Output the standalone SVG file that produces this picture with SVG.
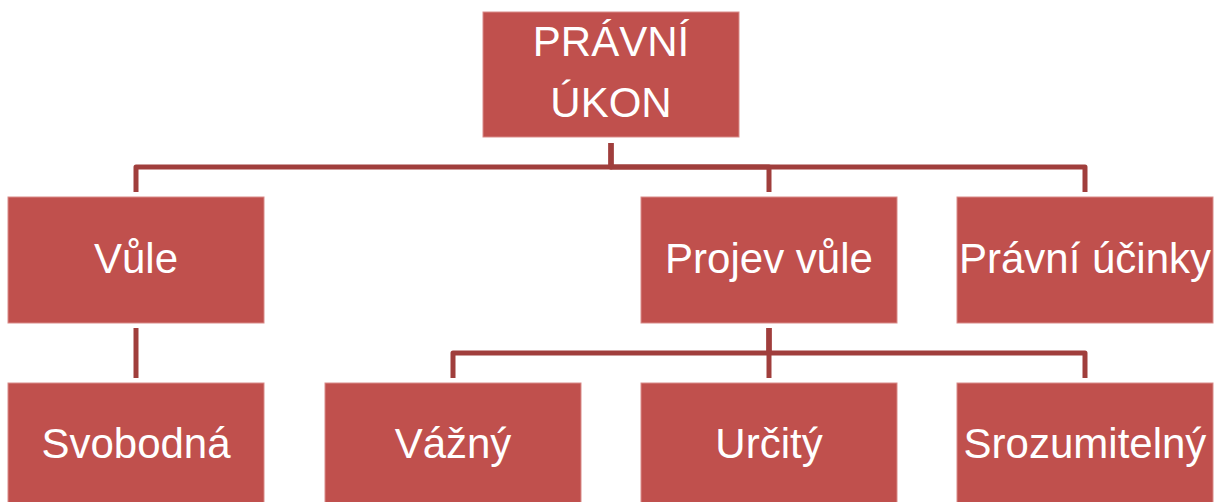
<svg xmlns="http://www.w3.org/2000/svg" width="1218" height="502" viewBox="0 0 1218 502">
<style>
.box{fill:#c0504d;stroke:#d98b89;stroke-width:1}
.lbl{font-family:"Liberation Sans",Arial,sans-serif;font-size:42px;fill:#ffffff;text-anchor:middle}
.conn{fill:none;stroke:#a03e3c;stroke-width:5;stroke-linejoin:round}
</style>
<rect width="1218" height="502" fill="#ffffff"/>
<g id="connectors">
<path class="conn" d="M611,143 V167 H136 V192"/>
<path class="conn" d="M611,143 V167 H769 V192"/>
<path class="conn" d="M611,143 V167 H1085 V192"/>
<path class="conn" d="M136,328 V378"/>
<path class="conn" d="M769,328 V353 H453 V378"/>
<path class="conn" d="M769,328 V378"/>
<path class="conn" d="M769,328 V353 H1085 V378"/>
</g>
<g id="n-pravni-ukon">
<rect class="box" x="483" y="12" width="256" height="125"/>
<text class="lbl" x="611" y="56">PRÁVNÍ</text>
<text class="lbl" x="611" y="117">ÚKON</text>
</g>
<g id="n-vule">
<rect class="box" x="8" y="197" width="256" height="126"/>
<text class="lbl" x="136" y="273">Vůle</text>
</g>
<g id="n-projev-vule">
<rect class="box" x="641" y="197" width="256" height="126"/>
<text class="lbl" x="769" y="273">Projev vůle</text>
</g>
<g id="n-pravni-ucinky">
<rect class="box" x="957" y="197" width="256" height="126"/>
<text class="lbl" x="1085" y="273">Právní účinky</text>
</g>
<g id="n-svobodna">
<rect class="box" x="8" y="383" width="256" height="126"/>
<text class="lbl" x="136" y="458">Svobodná</text>
</g>
<g id="n-vazny">
<rect class="box" x="325" y="383" width="256" height="126"/>
<text class="lbl" x="453" y="458">Vážný</text>
</g>
<g id="n-urcity">
<rect class="box" x="641" y="383" width="256" height="126"/>
<text class="lbl" x="769" y="458">Určitý</text>
</g>
<g id="n-srozumitelny">
<rect class="box" x="957" y="383" width="256" height="126"/>
<text class="lbl" x="1085" y="458">Srozumitelný</text>
</g>
</svg>
